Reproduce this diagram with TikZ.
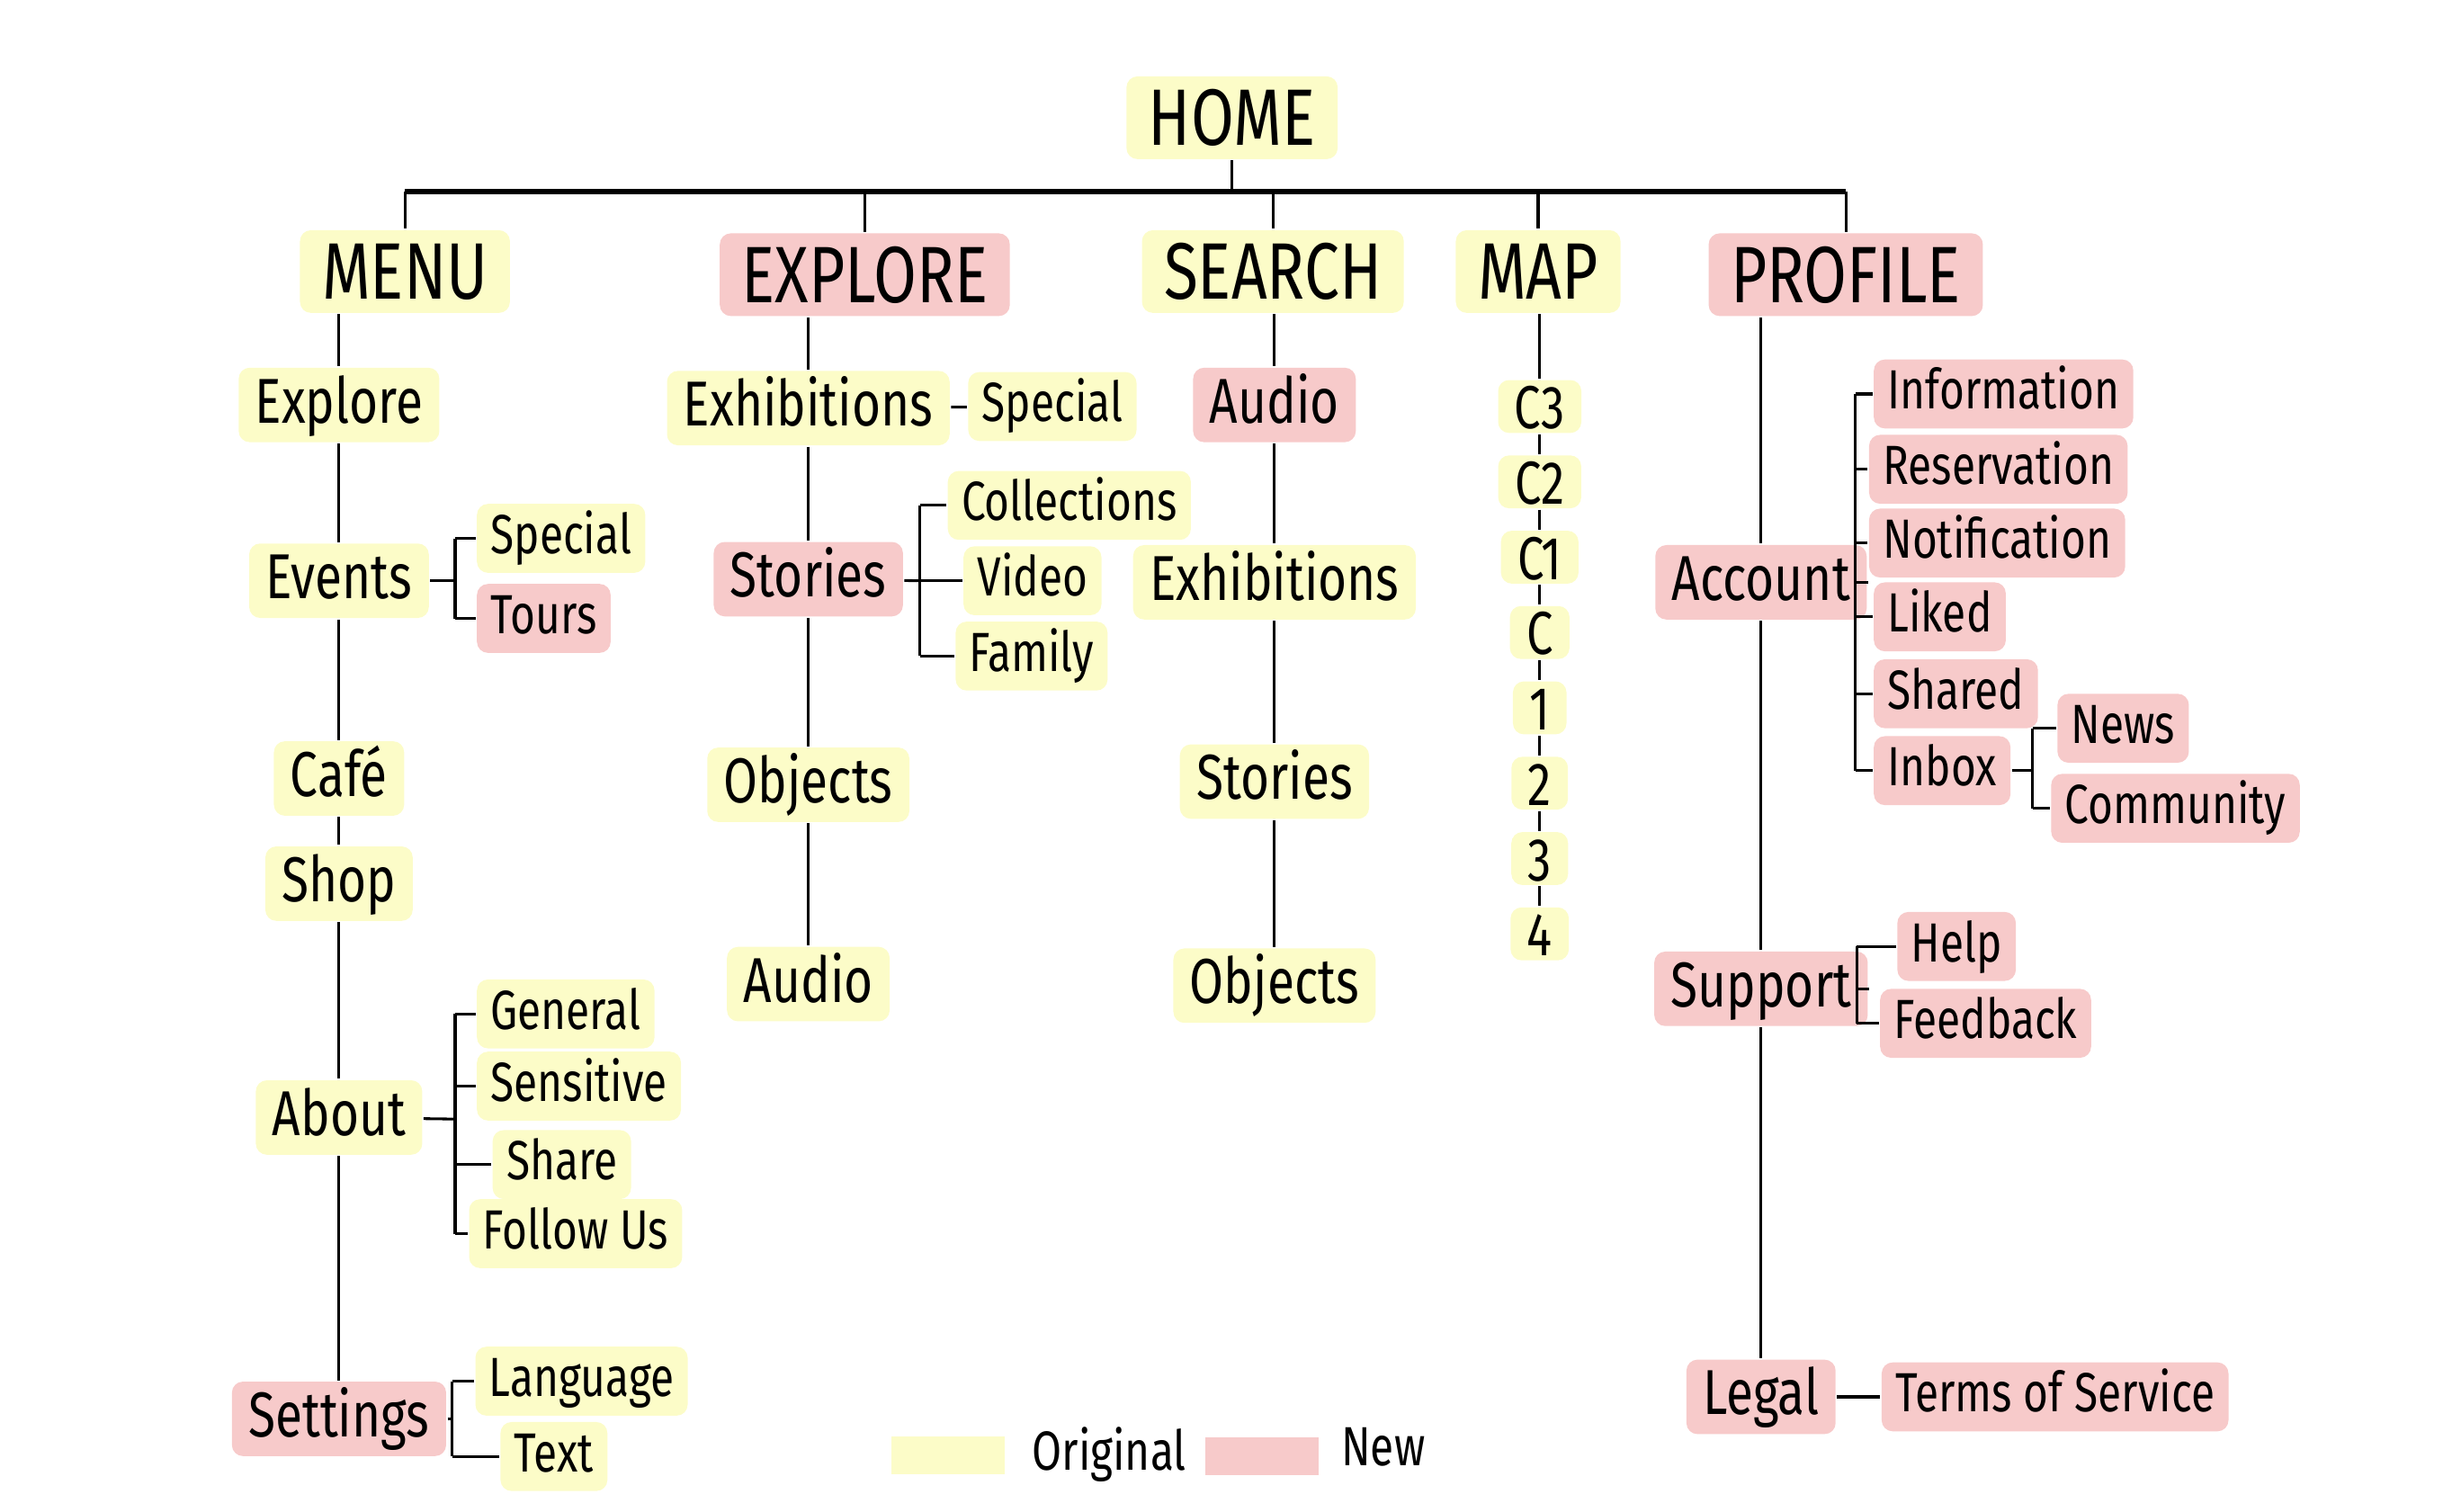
\documentclass[tikz,border=0pt]{standalone}
\usepackage{fontspec}
\setmainfont{Fira Sans}[FakeStretch=0.78]

\definecolor{origyellow}{RGB}{252,252,200}
\definecolor{newpink}{RGB}{247,202,202}

\begin{document}
\begin{tikzpicture}[
        hlorig/.style={fill=origyellow, rounded corners=2pt},
        hlnew/.style={fill=newpink, rounded corners=2pt},
        lvltop/.style={font=\fontsize{14.5}{17}\selectfont, inner xsep=4pt, inner ysep=2pt, text height=10.5pt, text depth=0.5pt},
        lvlmid/.style={font=\fontsize{11.5}{14}\selectfont, inner xsep=3pt, inner ysep=1.5pt, text height=8.5pt, text depth=2pt},
        lvlleaf/.style={font=\fontsize{10}{12}\selectfont, inner xsep=2.5pt, inner ysep=1.5pt, text height=7.5pt, text depth=2pt, anchor=west},
        lvlmap/.style={font=\fontsize{11}{13}\selectfont, inner xsep=3pt, inner ysep=0.8pt, text height=8pt, text depth=0pt},
        keybox/.style={minimum width=0.72cm, minimum height=0.24cm, inner sep=0pt},
        line width=0.5pt
    ]
        \useasboundingbox (0,0) rectangle (15.68,-9.63);

        % top level
        \node[lvltop, hlorig] (home) at (7.85,-0.75) {HOME};
        \node[lvltop, hlorig] (menu) at (2.58,-1.73) {MENU};
        \node[lvltop, hlnew] (explore) at (5.51,-1.75) {EXPLORE};
        \node[lvltop, hlorig] (search) at (8.11,-1.73) {SEARCH};
        \node[lvltop, hlorig] (map) at (9.80,-1.73) {MAP};
        \node[lvltop, hlnew] (profile) at (11.76,-1.75) {PROFILE};

        \coordinate (bar) at (7.85,-1.22);
        \draw (home) -- (bar);
        \draw[line width=0.9pt] (menu |- bar) -- (profile |- bar);
        \foreach \n in {menu,explore,search,map,profile} {
            \draw (\n |- bar) -- (\n);
        }

        % menu
        \node[lvlmid, hlorig] (mexplore) at (2.16,-2.58) {Explore};
        \node[lvlmid, hlorig] (events) at (2.16,-3.70) {Events};
        \node[lvlmid, hlorig] (cafe) at (2.16,-4.96) {Café};
        \node[lvlmid, hlorig] (shop) at (2.16,-5.63) {Shop};
        \node[lvlmid, hlorig] (about) at (2.16,-7.12) {About};
        \node[lvlmid, hlnew] (settings) at (2.16,-9.04) {Settings};
        \draw (menu.south -| mexplore) -- (mexplore);
        \draw (mexplore) -- (events) -- (cafe) -- (shop) -- (about) -- (settings);

        \coordinate (evbr) at (2.90,-3.70);
        \node[lvlleaf, hlorig] (evspecial) at (3.03,-3.43) {Special};
        \node[lvlleaf, hlnew] (tours) at (3.03,-3.94) {Tours};
        \draw (events) -- (evbr);
        \draw (evbr |- evspecial) -- (evbr |- tours);
        \foreach \n in {evspecial,tours} {
            \draw (evbr |- \n) -- (\n);
        }

        \coordinate (abbr) at (2.90,-7.13);
        \node[lvlleaf, hlorig] (general) at (3.03,-6.46) {General};
        \node[lvlleaf, hlorig] (sensitive) at (3.03,-6.92) {Sensitive};
        \node[lvlleaf, hlorig] (share) at (3.13,-7.42) {Share};
        \node[lvlleaf, hlorig] (follow) at (2.98,-7.86) {Follow Us};
        \draw (about) -- (abbr);
        \draw (abbr |- general) -- (abbr |- follow);
        \foreach \n in {general,sensitive,share,follow} {
            \draw (abbr |- \n) -- (\n);
        }

        \coordinate (sebr) at (2.88,-9.04);
        \node[lvlleaf, hlorig] (language) at (3.02,-8.80) {Language};
        \node[lvlleaf, hlorig] (text) at (3.18,-9.28) {Text};
        \draw (settings) -- (sebr);
        \draw (sebr |- language) -- (sebr |- text);
        \foreach \n in {language,text} {
            \draw (sebr |- \n) -- (\n);
        }

        % explore
        \node[lvlmid, hlorig] (eexhib) at (5.15,-2.60) {Exhibitions};
        \node[lvlmid, hlnew] (estories) at (5.15,-3.69) {Stories};
        \node[lvlmid, hlorig] (eobjects) at (5.15,-5.00) {Objects};
        \node[lvlmid, hlorig] (eaudio) at (5.15,-6.27) {Audio};
        \draw (explore.south -| eexhib) -- (eexhib);
        \draw (eexhib) -- (estories) -- (eobjects) -- (eaudio);

        \node[lvlleaf, hlorig] (exspecial) at (6.16,-2.59) {Special};
        \draw (eexhib) -- (exspecial);

        \coordinate (stbr) at (5.86,-3.70);
        \node[lvlleaf, hlorig] (collections) at (6.03,-3.22) {Collections};
        \node[lvlleaf, hlorig] (video) at (6.13,-3.70) {Video};
        \node[lvlleaf, hlorig] (family) at (6.08,-4.18) {Family};
        \draw (estories) -- (stbr);
        \draw (stbr |- collections) -- (stbr |- family);
        \foreach \n in {collections,video,family} {
            \draw (stbr |- \n) -- (\n);
        }

        % search
        \node[lvlmid, hlnew] (saudio) at (8.12,-2.58) {Audio};
        \node[lvlmid, hlorig] (sexhib) at (8.12,-3.71) {Exhibitions};
        \node[lvlmid, hlorig] (sstories) at (8.12,-4.98) {Stories};
        \node[lvlmid, hlorig] (sobjects) at (8.12,-6.28) {Objects};
        \draw (search.south -| saudio) -- (saudio) -- (sexhib) -- (sstories) -- (sobjects);

        % map
        \foreach \lbl [count=\i] in {C3,C2,C1,C,1,2,3,4} {
            \node[lvlmap, hlorig] (lv\i) at (9.81,{-2.59-0.48*(\i-1)}) {\lbl};
        }
        \draw (map.south -| lv1) -- (lv1);
        \foreach \i [evaluate=\i as \j using int(\i+1)] in {1,...,7} {
            \draw (lv\i) -- (lv\j);
        }

        % profile
        \node[lvlmid, hlnew] (account) at (11.22,-3.71) {Account};
        \node[lvlmid, hlnew] (support) at (11.22,-6.30) {Support};
        \node[lvlmid, hlnew] (legal) at (11.22,-8.90) {Legal};
        \draw (profile.south -| account) -- (account) -- (support) -- (legal);

        \coordinate (acbr) at (11.82,-3.71);
        \node[lvlleaf, hlnew] (information) at (11.93,-2.51) {Information};
        \node[lvlleaf, hlnew] (reservation) at (11.90,-2.99) {Reservation};
        \node[lvlleaf, hlnew] (notification) at (11.90,-3.46) {Notification};
        \node[lvlleaf, hlnew] (liked) at (11.93,-3.93) {Liked};
        \node[lvlleaf, hlnew] (shared) at (11.93,-4.42) {Shared};
        \node[lvlleaf, hlnew] (inbox) at (11.93,-4.91) {Inbox};
        \draw (account) -- (acbr);
        \draw (acbr |- information) -- (acbr |- inbox);
        \foreach \n in {information,reservation,notification,liked,shared,inbox} {
            \draw (acbr |- \n) -- (\n);
        }

        \coordinate (inbr) at (12.95,-4.91);
        \node[lvlleaf, hlnew] (news) at (13.10,-4.64) {News};
        \node[lvlleaf, hlnew] (community) at (13.06,-5.15) {Community};
        \draw (inbox) -- (inbr);
        \draw (inbr |- news) -- (inbr |- community);
        \foreach \n in {news,community} {
            \draw (inbr |- \n) -- (\n);
        }

        \coordinate (subr) at (11.83,-6.30);
        \node[lvlleaf, hlnew] (help) at (12.08,-6.03) {Help};
        \node[lvlleaf, hlnew] (feedback) at (11.97,-6.52) {Feedback};
        \draw (support) -- (subr);
        \draw (subr |- help) -- (subr |- feedback);
        \foreach \n in {help,feedback} {
            \draw (subr |- \n) -- (\n);
        }

        \node[lvlleaf, hlnew] (terms) at (11.98,-8.90) {Terms of Service};
        \draw (legal) -- (terms);

        % key
        \node[keybox, fill=origyellow] (keyorig) at (6.04,-9.27) {};
        \node[lvlleaf] (keyorigtxt) at (6.48,-9.27) {Original};
        \node[keybox, fill=newpink] (keynew) at (8.04,-9.28) {};
        \node[lvlleaf] (keynewtxt) at (8.45,-9.24) {New};
    \end{tikzpicture}
\end{document}
